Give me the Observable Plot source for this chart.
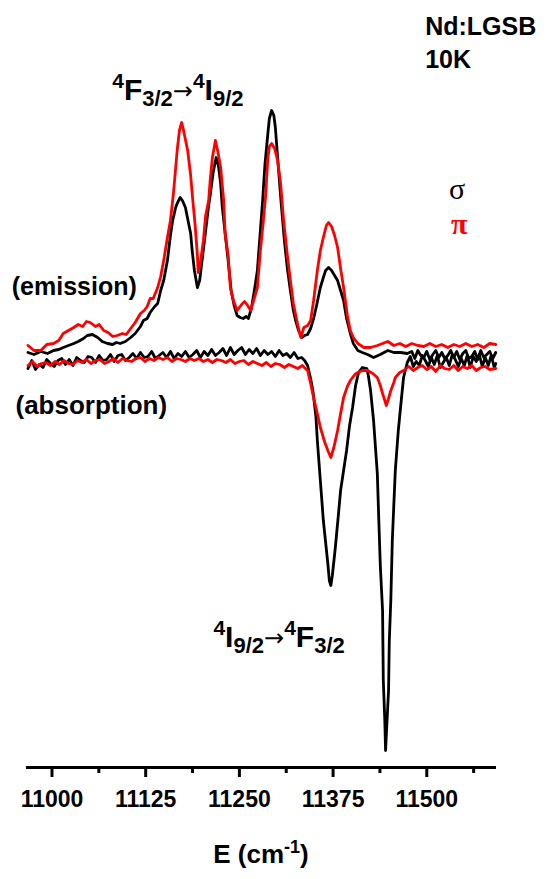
<!DOCTYPE html>
<html><head><meta charset="utf-8">
<script src="https://cdn.jsdelivr.net/npm/d3@7"></script>
<script src="https://cdn.jsdelivr.net/npm/@observablehq/plot@0.6"></script>
<style>body{margin:0;background:#fff} svg{display:block}</style>
</head><body><div id="chart"></div>
<script>
// Energy (cm^-1) and intensity (a.u.)
const emSigmaE = [10968,10976,10985,10994,11002,11009,11015,11022,11029,11035,11042,11047,11054,11061,11067,11074,11081,11086,11091,11098,11105,11111,11118,11122,11127,11131,11137,11141,11145,11149,11154,11158,11161,11165,11167,11171,11174,11178,11182,11185,11187,11190,11194,11197,11201,11205,11209,11211,11215,11219,11222,11225,11227,11231,11235,11239,11243,11247,11251,11255,11259,11262,11266,11270,11274,11278,11281,11284,11288,11290,11293,11296,11298,11302,11306,11310,11314,11318,11322,11325,11329,11333,11337,11341,11345,11349,11353,11358,11362,11365,11369,11373,11377,11381,11385,11389,11393,11398,11402,11408,11414,11421,11429,11438,11448,11456,11465,11474,11480,11484,11488,11492,11496,11500,11504,11508,11512,11516,11520,11524,11528,11532,11536,11540,11544,11548,11552,11556,11560,11564,11568,11572,11576,11580,11584,11588,11592];
const emSigmaI = [0.8,0.6,0.9,0.7,1.0,1.1,1.3,1.5,1.7,1.9,2.2,2.5,2.6,2.3,1.9,1.7,1.6,1.8,1.7,1.9,2.3,2.7,3.4,4.0,4.2,4.8,5.4,5.7,7.0,8.0,10.0,12.5,14.0,15.3,15.7,16.3,16.0,15.3,13.8,12.7,11.0,9.0,7.3,8.0,10.5,13.0,15.5,16.5,18.8,20.3,19.5,17.7,15.5,12.7,10.0,7.0,5.5,4.5,4.3,4.2,4.4,4.2,5.2,7.0,9.0,13.0,16.0,19.5,22.7,24.2,25.0,24.5,23.3,19.3,15.5,12.0,9.2,7.0,5.0,4.0,3.0,2.3,2.5,2.6,3.2,4.2,5.5,7.3,8.3,9.0,9.3,9.0,8.5,8.0,7.0,6.0,4.2,2.7,1.7,1.0,0.8,0.6,0.3,0.6,1.0,0.8,0.8,0.7,0.9,0.2,1.0,0.5,0.3,0.9,0.1,0.6,1.0,0.3,0.8,0.2,0.5,1.0,0.3,0.9,0.1,0.7,1.0,0.2,0.4,0.9,0.1,1.0,0.3,0.6,0.9,0.2,0.8];

const emPiE = [10968,10976,10985,10993,11002,11009,11015,11022,11029,11035,11041,11046,11051,11058,11063,11069,11075,11081,11087,11094,11099,11105,11111,11118,11123,11127,11131,11135,11141,11145,11149,11154,11158,11162,11167,11170,11173,11175,11181,11185,11187,11191,11194,11195,11198,11202,11205,11209,11211,11214,11218,11221,11225,11229,11231,11235,11238,11242,11247,11253,11257,11261,11265,11269,11274,11278,11282,11285,11288,11290,11293,11297,11301,11305,11309,11314,11318,11322,11328,11332,11336,11341,11345,11349,11354,11358,11362,11366,11369,11373,11377,11381,11385,11389,11394,11398,11402,11408,11416,11425,11434,11441,11448,11456,11464,11472,11480,11488,11496,11504,11512,11520,11528,11536,11544,11552,11560,11568,11576,11584,11592];
const emPiI = [1.5,1.0,1.0,1.6,1.7,2.0,2.7,3.0,3.3,3.6,3.4,3.9,3.8,3.4,3.6,3.0,2.8,2.4,2.5,2.7,2.6,3.2,3.8,4.7,5.0,5.4,6.2,6.2,7.3,8.4,10.0,12.3,14.0,16.7,21.0,23.0,23.8,23.2,21.0,18.5,16.7,13.5,10.5,8.8,9.8,12.0,14.5,16.0,18.0,20.3,22.0,21.0,19.3,16.0,12.7,10.5,7.3,6.0,5.0,5.6,5.9,5.5,5.0,6.0,7.3,11.0,14.0,16.5,20.3,21.4,21.7,21.2,20.0,17.7,14.0,10.5,8.0,5.7,3.5,2.3,3.3,3.5,4.0,6.0,9.0,11.0,12.3,13.5,13.8,13.4,12.5,11.3,9.2,7.3,4.5,3.0,2.3,1.7,1.3,1.3,1.5,1.7,1.9,1.5,1.7,1.4,1.7,1.5,1.4,1.7,1.4,1.6,1.3,1.6,1.4,1.7,1.4,1.6,1.3,1.7,1.6];

const absSigmaE = [10968,10973,10978,10983,10988,10993,10998,11003,11008,11013,11018,11023,11028,11033,11038,11043,11048,11053,11058,11063,11068,11073,11078,11083,11088,11093,11098,11103,11108,11113,11118,11123,11128,11133,11138,11143,11148,11153,11158,11163,11168,11173,11178,11183,11188,11193,11198,11203,11208,11213,11218,11223,11228,11233,11238,11243,11248,11253,11258,11263,11268,11273,11278,11283,11288,11293,11298,11303,11308,11313,11318,11323,11328,11333,11337,11341,11345,11348,11352,11354,11358,11362,11368,11370,11372,11374,11378,11382,11385,11389,11393,11397,11401,11405,11409,11414,11420,11422,11425,11429,11434,11436,11438,11441,11442,11444,11445,11446,11449,11450,11452,11454,11458,11462,11465,11469,11472,11474,11478,11482,11486,11490,11494,11498,11502,11506,11510,11514,11518,11522,11526,11530,11534,11538,11542,11546,11550,11554,11558,11562,11566,11570,11574,11578,11582,11586,11590,11592];
const absSigmaI = [-0.8,0.0,-0.9,-0.4,-0.7,0.1,-0.3,-0.6,0.0,0.2,-0.4,0.1,-0.5,0.3,0.0,-0.2,0.4,0.3,-0.2,0.5,0.0,0.1,0.6,-0.1,0.5,0.6,0.0,0.3,0.7,0.2,0.8,0.3,0.4,0.9,0.2,0.5,0.8,0.3,0.9,0.2,0.7,0.4,0.9,0.3,0.6,1.0,0.3,0.9,0.5,1.1,0.5,0.8,1.2,0.5,1.3,0.6,1.0,1.3,0.6,1.1,0.7,1.2,0.5,1.0,0.6,0.9,0.4,1.0,0.5,0.7,0.3,0.8,0.2,0.3,0.0,-0.5,-1.8,-3.0,-5.5,-8.0,-12.0,-16.0,-20.3,-22.0,-22.5,-21.5,-18.7,-15.5,-13.0,-11.0,-9.0,-6.5,-4.7,-2.5,-1.2,-0.7,-0.8,-1.5,-3.0,-6.0,-11.3,-16.0,-20.5,-25.0,-32.0,-36.0,-39.0,-37.5,-33.0,-28.0,-24.0,-18.0,-11.0,-7.0,-4.7,-1.7,-0.8,-0.2,0.4,-0.6,-0.1,-0.5,0.5,0.0,-0.6,0.3,-0.4,0.5,-0.7,-0.2,0.3,-0.5,0.6,0.1,-0.6,0.2,-0.5,0.5,-0.7,0.4,-0.1,0.6,-0.6,0.3,-0.5,0.5,-0.7,-0.3];

const absPiE = [10968,10974,10980,10986,10992,10998,11004,11010,11016,11022,11028,11034,11040,11046,11052,11058,11064,11070,11076,11082,11088,11094,11100,11106,11112,11118,11124,11130,11136,11142,11148,11154,11160,11166,11172,11178,11184,11190,11196,11202,11208,11214,11220,11226,11232,11238,11244,11250,11256,11262,11268,11274,11280,11286,11292,11298,11304,11310,11316,11322,11328,11334,11338,11341,11345,11349,11354,11358,11364,11368,11372,11376,11381,11385,11389,11394,11398,11404,11408,11414,11421,11428,11434,11438,11441,11444,11446,11449,11452,11456,11458,11464,11469,11476,11482,11488,11494,11500,11506,11512,11518,11524,11530,11536,11542,11548,11554,11560,11566,11572,11578,11584,11592];
const absPiI = [-0.5,-0.1,-0.6,-0.3,-0.2,-0.5,-0.1,-0.4,0.0,-0.3,-0.4,0.0,-0.2,0.1,-0.3,0.0,0.1,-0.3,-0.1,0.2,-0.2,0.2,0.0,-0.1,0.2,0.3,-0.1,0.2,0.0,0.3,0.1,0.3,-0.1,0.2,0.1,-0.1,0.2,0.0,0.2,-0.1,0.1,-0.2,0.1,0.0,-0.2,0.1,-0.3,-0.1,0.0,-0.4,-0.1,-0.3,-0.5,-0.2,-0.6,-0.3,-0.4,-0.7,-0.4,-0.6,-0.8,-0.5,-0.8,-1.0,-2.3,-3.7,-5.3,-6.7,-8.2,-9.0,-9.7,-8.7,-7.0,-5.3,-3.7,-2.6,-2.0,-1.4,-1.2,-1.0,-1.0,-1.3,-1.7,-2.5,-3.3,-4.0,-4.5,-3.8,-3.0,-2.2,-1.7,-1.2,-1.0,-0.6,-1.0,-0.7,-0.5,-0.9,-0.6,-1.1,-0.5,-0.8,-0.9,-0.5,-1.0,-0.6,-0.8,-0.5,-1.0,-0.7,-0.6,-0.9,-0.8];

const majorTicks = [11000, 11125, 11250, 11375, 11500];
const minorTicks = [11062.5, 11187.5, 11312.5, 11437.5, 11562.5];

const rows = (E, I) => E.map((e, i) => ({E: e, I: I[i]}));
const yMin = -40.7, yMax = 36;

const plot = Plot.plot({
  width: 550, height: 879,
  marginLeft: 26, marginRight: 54, marginTop: 0, marginBottom: 112,
  x: {domain: [10966, 11593]},
  y: {domain: [yMin, yMax], axis: null},
  style: {fontFamily: "'Liberation Sans', Arial, sans-serif", fontWeight: "bold", fontSize: "23px", color: "black", background: "white", overflow: "visible"},
  marks: [
    Plot.line(rows(absSigmaE, absSigmaI), {x: "E", y: "I", stroke: "black", strokeWidth: 2.8}),
    Plot.line(rows(absPiE, absPiI), {x: "E", y: "I", stroke: "#ff0000", strokeWidth: 2.8}),
    Plot.line(rows(emSigmaE, emSigmaI), {x: "E", y: "I", stroke: "black", strokeWidth: 2.8}),
    Plot.line(rows(emPiE, emPiI), {x: "E", y: "I", stroke: "#ff0000", strokeWidth: 2.8}),
    Plot.ruleY([yMin], {stroke: "black", strokeWidth: 3}),
    Plot.axisX(majorTicks, {tickSize: 10, tickPadding: 13, strokeWidth: 3, tickFormat: d => String(d), label: null}),
    Plot.axisX(minorTicks, {tickSize: 6, strokeWidth: 3, tickFormat: () => "", label: null})
  ]
});

document.getElementById("chart").appendChild(plot);

// annotations placed through the plot's own scales
const sx = plot.scale("x"), sy = plot.scale("y");
const svg = d3.select(plot);
const sans = "'Liberation Sans', Arial, sans-serif";
const serif = "'Liberation Serif', 'Times New Roman', serif";
function addText(E, I, parts, opts) {
  const t = svg.append("text")
    .attr("x", sx.apply(E)).attr("y", sy.apply(I))
    .attr("font-family", opts.family || sans)
    .attr("font-weight", opts.weight || "bold")
    .attr("font-size", opts.size)
    .attr("text-anchor", opts.anchor || "start")
    .attr("fill", opts.fill || "black");
  let cur = 0;
  parts.forEach(p => {
    const off = p.off || 0;
    const ts = t.append("tspan").text(p.t).attr("dy", off - cur);
    if (p.size) ts.attr("font-size", p.size);
    if (p.weight) ts.attr("font-weight", p.weight);
    if (p.family) ts.attr("font-family", p.family);
    cur = off;
  });
}
const arrowFont = "'DejaVu Sans', sans-serif";
addText(11498.5, 32.5, [{t: "Nd:LGSB"}], {size: 25});
addText(11498.5, 29.2, [{t: "10K"}], {size: 25});
addText(11541, 16.1, [{t: "σ"}], {size: 30, family: serif, weight: "normal", anchor: "middle"});
addText(11544, 12.6, [{t: "π"}], {size: 30, family: serif, weight: "bold", anchor: "middle", fill: "#ff0000"});
addText(10947, 6.5, [{t: "(emission)"}], {size: 25});
addText(10952, -5.4, [{t: "(absorption)"}], {size: 26});
addText(11081, 26, [
  {t: "4", size: 21, off: -12}, {t: "F", off: 0}, {t: "3/2", size: 22, off: 6},
  {t: "→", size: 24, weight: "normal", family: arrowFont, off: -1}, {t: "4", size: 21, off: -12}, {t: "I", off: 0}, {t: "9/2", size: 22, off: 6}
], {size: 30});
addText(11216, -28.7, [
  {t: "4", size: 21, off: -12}, {t: "I", off: 0}, {t: "9/2", size: 22, off: 6},
  {t: "→", size: 24, weight: "normal", family: arrowFont, off: -1}, {t: "4", size: 21, off: -12}, {t: "F", off: 0}, {t: "3/2", size: 22, off: 6}
], {size: 30});
addText(11279.5, -50.3, [{t: "E (cm"}, {t: "-1", size: 18, off: -10}, {t: ")", off: 0}], {size: 26, anchor: "middle"});
</script>
</body></html>
